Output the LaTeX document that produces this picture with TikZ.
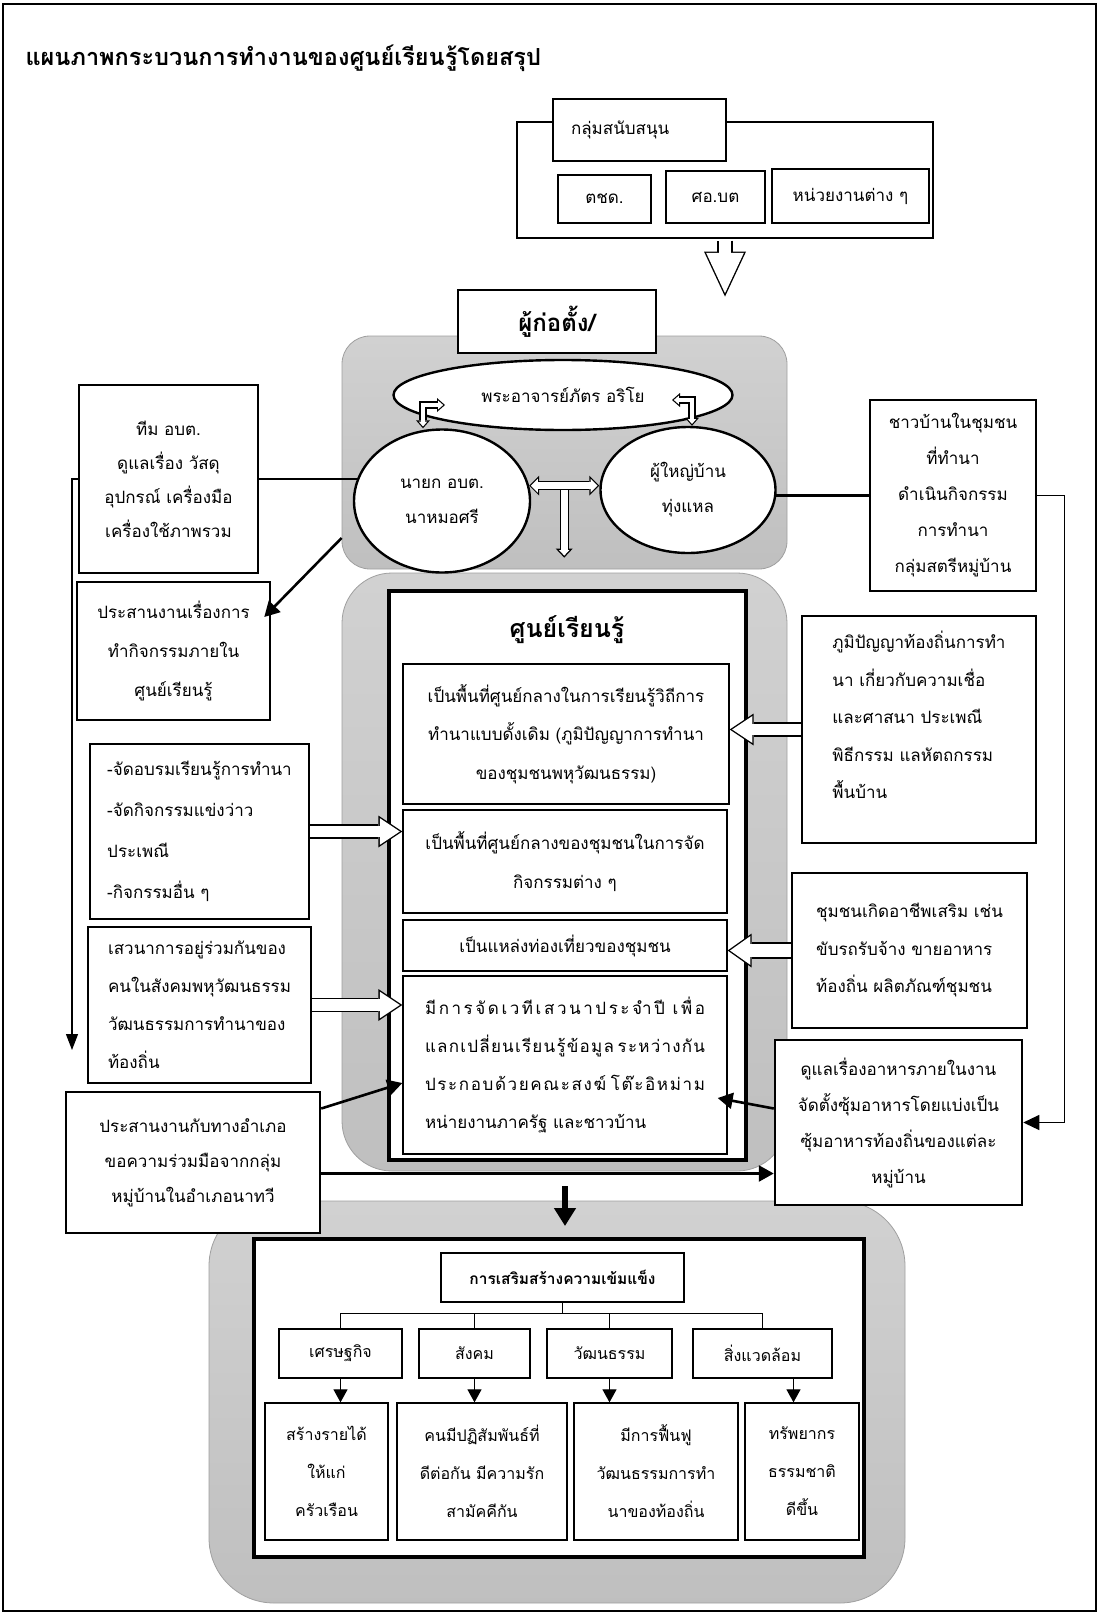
\documentclass[tikz,border=0pt]{standalone}
\usepackage{fontspec}
\setmainfont[Script=Thai]{Loma}
\usetikzlibrary{arrows.meta,calc,shapes.geometric}
\pgfdeclarelayer{back}
\pgfdeclarelayer{mid}
\pgfsetlayers{back,mid,main}

\newcommand\bodyfont{\fontsize{17}{37}\selectfont}
\newcommand\lowfont{\fontsize{16}{38}\selectfont}
% hollow block arrow: path, stem, head width, head length
\newcommand\hollow[4]{%
  \pgfmathsetmacro\hoh{#3/2}%
  \pgfmathsetmacro\hod{1.4*sqrt(\hoh*\hoh+#4*#4)/\hoh}%
  \pgfmathsetmacro\hol{#4-\hod-1.4}%
  \pgfmathsetmacro\how{#3*\hol/#4}%
  \pgfmathsetmacro\hoso{#2+1.4}%
  \pgfmathsetmacro\hosi{#2-1.4}%
  \draw[line width=\hoso pt, -{Triangle[length=#4pt, width=#3pt, line width=0pt]}] #1;
  \draw[white, line width=\hosi pt, shorten >=\hod pt,
    -{Triangle[length=\hol pt, width=\how pt, line width=0pt]}] #1;
}
\newcommand\hollowboth[4]{%
  \pgfmathsetmacro\hoh{#3/2}%
  \pgfmathsetmacro\hod{1.2*sqrt(\hoh*\hoh+#4*#4)/\hoh}%
  \pgfmathsetmacro\hol{#4-\hod-1.2}%
  \pgfmathsetmacro\how{#3*\hol/#4}%
  \pgfmathsetmacro\hoso{#2+1.2}%
  \pgfmathsetmacro\hosi{#2-1.2}%
  \draw[line width=\hoso pt, {Triangle[length=#4pt, width=#3pt, line width=0pt]}-{Triangle[length=#4pt, width=#3pt, line width=0pt]}] #1;
  \draw[white, line width=\hosi pt, shorten >=\hod pt, shorten <=\hod pt,
    {Triangle[length=\hol pt, width=\how pt, line width=0pt]}-{Triangle[length=\hol pt, width=\how pt, line width=0pt]}] #1;
}

\tikzset{
  box/.style={draw, fill=white, line width=1.3pt, inner sep=0pt, align=center, font=\bodyfont},
  bbox/.style={box, line width=2.5pt},
  wh/.style 2 args={minimum width=#1pt, minimum height=#2pt},
  oval/.style={ellipse, draw, fill=white, line width=2.4pt, inner sep=0pt, align=center,
    font=\fontsize{17}{35}\selectfont},
  region/.style={draw=gray!75, line width=0.8pt, top color=gray!36, bottom color=gray!50,
    rounded corners=#1, inner sep=0pt},
  link/.style={line width=2.6pt},
  thinlink/.style={line width=1.2pt},
  arr/.style={-{Triangle[length=15pt, width=16pt]}},
  arrsm/.style={-{Triangle[length=13pt, width=14pt]}},
}

\begin{document}
\begin{tikzpicture}[x=1pt, y=-1pt]
\useasboundingbox (0,0) rectangle (1098,1614);
\draw[line width=1.4pt] (3,4) rectangle (1096,1611);
\node[font=\bfseries\fontsize{23.5}{27}\selectfont, anchor=west] (title) at (22,58)
  {แผนภาพกระบวนการทำงานของศูนย์เรียนรู้โดยสรุป};

% grey backgrounds
\begin{pgfonlayer}{back}
  \node[region=28pt, wh={445}{233}] (reg1) at (564.5,452.5) {};
  \node[region=50pt, wh={445}{598}] (reg2) at (564.5,872) {};
  \node[region=65pt, wh={696}{402}] (reg3) at (557,1402) {};
\end{pgfonlayer}

% support group
\node[bbox, wh={416}{116}] (supgrp) at (725,180) {};
\node[box, line width=1.2pt, align=left, text width=137pt, inner xsep=18pt, wh={173}{62}] (support) at (639.5,130) {กลุ่มสนับสนุน};
\node[box, line width=1.2pt, wh={93}{48}] (bpp) at (604.5,199) {ตชด.};
\node[box, line width=1.2pt, wh={99}{52}] (sbpac) at (715.5,197) {ศอ.บต};
\node[box, line width=1.2pt, wh={157}{54}] (agencies) at (850.5,196) {หน่วยงานต่าง ๆ};

\node[bbox, wh={198}{63}, font=\bfseries\fontsize{24}{26}\selectfont] (founder) at (557,321.5) {ผู้ก่อตั้ง/};

% founders
\node[oval, wh={339}{70}] (monk) at (563,395) {พระอาจารย์ภัตร อริโย};
\node[oval, wh={176}{143}] (mayor) at (442,501) {นายก อบต.\\นาหมอศรี};
\node[oval, wh={175}{126}] (headman) at (688,490) {ผู้ใหญ่บ้าน\\ทุ่งแหล};

% left side
\node[bbox, wh={179}{188}, font=\fontsize{17}{34}\selectfont] (team) at (168.5,479)
  {ทีม อบต.\\ดูแลเรื่อง วัสดุ\\อุปกรณ์ เครื่องมือ\\เครื่องใช้ภาพรวม};
\node[bbox, wh={193}{138}, font=\fontsize{17}{39}\selectfont] (coord) at (173.5,651)
  {ประสานงานเรื่องการ\\ทำกิจกรรมภายใน\\ศูนย์เรียนรู้};
\node[bbox, wh={219}{175}, align=left, font=\fontsize{17}{41}\selectfont] (train) at (199.5,831.5)
  {-จัดอบรมเรียนรู้การทำนา\\-จัดกิจกรรมแข่งว่าว\\ประเพณี\\-กิจกรรมอื่น ๆ};
\node[bbox, wh={223}{156}, align=left, font=\fontsize{17}{38}\selectfont] (forum) at (199.5,1005)
  {เสวนาการอยู่ร่วมกันของ\\คนในสังคมพหุวัฒนธรรม\\วัฒนธรรมการทำนาของ\\ท้องถิ่น};
\node[bbox, wh={254}{141}, font=\fontsize{17}{35}\selectfont] (district) at (193,1162.5)
  {ประสานงานกับทางอำเภอ\\ขอความร่วมมือจากกลุ่ม\\หมู่บ้านในอำเภอนาทวี};

% right side
\node[bbox, wh={166}{191}, font=\fontsize{17}{36}\selectfont] (villager) at (953,495.5)
  {ชาวบ้านในชุมชน\\ที่ทำนา\\ดำเนินกิจกรรม\\การทำนา\\กลุ่มสตรีหมู่บ้าน};
\node[bbox, wh={234}{227}, align=left, font=\fontsize{17}{37.5}\selectfont] (wisdom) at (919,729.5)
  {ภูมิปัญญาท้องถิ่นการทำ\\นา เกี่ยวกับความเชื่อ\\และศาสนา ประเพณี\\พิธีกรรม แลหัตถกรรม\\พื้นบ้าน\\[-8pt]};
\node[bbox, wh={235}{155}, align=left, font=\fontsize{17}{37.5}\selectfont] (career) at (909.5,950.5)
  {ชุมชนเกิดอาชีพเสริม เช่น\\ขับรถรับจ้าง ขายอาหาร\\ท้องถิ่น ผลิตภัณฑ์ชุมชน};
\node[bbox, wh={247}{165}, font=\fontsize{17}{36}\selectfont] (food) at (898.5,1122.5)
  {ดูแลเรื่องอาหารภายในงาน\\จัดตั้งซุ้มอาหารโดยแบ่งเป็น\\ซุ้มอาหารท้องถิ่นของแต่ละ\\หมู่บ้าน};

% learning centre
\node[bbox, line width=3.2pt, wh={357}{569}] (lc) at (567.5,875.5) {};
\node[font=\bfseries\fontsize{25}{28}\selectfont] (lctitle) at (567,630) {ศูนย์เรียนรู้};
\node[box, wh={326}{140}, font=\fontsize{17}{38.5}\selectfont] (sub1) at (566,734)
  {เป็นพื้นที่ศูนย์กลางในการเรียนรู้วิถีการ\\ทำนาแบบดั้งเดิม (ภูมิปัญญาการทำนา\\ของชุมชนพหุวัฒนธรรม)};
\node[box, wh={324}{103}, font=\fontsize{17}{39}\selectfont] (sub2) at (565,861.5)
  {เป็นพื้นที่ศูนย์กลางของชุมชนในการจัด\\กิจกรรมต่าง ๆ};
\node[box, wh={324}{51}] (sub3) at (565,945.5) {เป็นแหล่งท่องเที่ยวของชุมชน};
\node[box, wh={324}{178}, align=left, font=\fontsize{17}{38}\selectfont] (sub4) at (565,1065)
  {\makebox[280pt][s]{มี\hfill ก\hfill า\hfill ร\hfill จั\hfill ด\hfill เ\hfill ว\hfill ที\hfill เ\hfill ส\hfill ว\hfill น\hfill า\hfill ป\hfill ร\hfill ะ\hfill จำ\hfill ปี\hfill\hfill\hfill เ\hfill พื่\hfill อ}\\
   \makebox[280pt][s]{แ\hfill ล\hfill ก\hfill เ\hfill ป\hfill ลี่\hfill ย\hfill น\hfill เ\hfill รี\hfill ย\hfill น\hfill รู้\hfill ข้\hfill อ\hfill มู\hfill ล\hfill\hfill\hfill ร\hfill ะ\hfill ห\hfill ว่\hfill า\hfill ง\hfill กั\hfill น}\\
   \makebox[280pt][s]{ป\hfill ร\hfill ะ\hfill ก\hfill อ\hfill บ\hfill ด้\hfill ว\hfill ย\hfill ค\hfill ณ\hfill ะ\hfill ส\hfill ง\hfill ฆ์\hfill\hfill\hfill โ\hfill ต๊\hfill ะ\hfill อิ\hfill ห\hfill ม่\hfill า\hfill ม}\\
   หน่ายงานภาครัฐ และชาวบ้าน};

% strengthening
\node[bbox, line width=3.2pt, wh={610}{318}] (strbox) at (559,1398) {};
\node[box, wh={243}{49}, font=\bfseries\fontsize{15.5}{18}\selectfont] (strength) at (562.5,1277.5) {การเสริมสร้างความเข้มแข็ง};
\node[box, wh={123}{49}, font=\lowfont] (econ) at (340.5,1353.5) {เศรษฐกิจ};
\node[box, wh={111}{49}, font=\lowfont] (soc) at (474.5,1353.5) {สังคม};
\node[box, wh={125}{49}, font=\lowfont] (cul) at (609.5,1353.5) {วัฒนธรรม};
\node[box, wh={139}{49}, font=\lowfont] (env) at (762.5,1353.5) {สิ่งแวดล้อม};
\node[box, wh={123}{137}, font=\lowfont] (r1) at (326.5,1471.5) {สร้างรายได้\\ให้แก่\\ครัวเรือน};
\node[box, wh={170}{137}, font=\lowfont] (r2) at (482,1471.5) {คนมีปฏิสัมพันธ์ที่\\ดีต่อกัน มีความรัก\\สามัคคีกัน};
\node[box, wh={164}{137}, font=\lowfont] (r3) at (656,1471.5) {มีการฟื้นฟู\\วัฒนธรรมการทำ\\นาของท้องถิ่น};
\node[box, wh={114}{137}, font=\lowfont] (r4) at (802,1471.5) {ทรัพยากร\\ธรรมชาติ\\ดีขึ้น};

% connectors
\begin{pgfonlayer}{mid}
  \draw[link] (team.east) -- (team.east -| mayor.center);
  \draw[link] (villager.west) -- (villager.west -| headman.center);
\end{pgfonlayer}
\coordinate (leftend) at (72,1050);
\draw[thinlink, -{Triangle[length=16pt, width=12pt]}] (team.west) -| (leftend);
\draw[thinlink, -{Triangle[length=16pt, width=15pt]}] (villager.east) -- ++(27,0) |- (food.east);
\draw[link, arr] (reg1.west |- 0,538) -- ([xshift=-7pt,yshift=34pt]coord.east);
\draw[link, arr] ([yshift=54pt]district.east) -- ([yshift=-18pt]sub4.west);
\draw[link, arr] ([yshift=-11pt]district.east) -- ([yshift=-11pt]district.east -| food.west);
\draw[link, arr] ([yshift=14pt]food.west) -- ([xshift=-10pt,yshift=-33pt]sub4.east);

\hollow{([yshift=-1.3pt]supgrp.south) -- ++(0,56)}{14}{42}{45}
\hollowboth{([xshift=-19pt]mayor.north) |- ([xshift=-118pt,yshift=-10pt]monk.center)}{6}{14}{8}
\hollowboth{([xshift=4pt]headman.north) |- ([xshift=109pt,yshift=-5pt]monk.center)}{6}{14}{8}
\hollow{($(mayor.10)!0.5!(mayor.10 -| headman.west)$) -- ++(0,72)}{8}{17}{9}
\hollowboth{(mayor.10) -- (mayor.10 -| headman.west)}{8}{20}{10}
\hollow{(train.east) -- (train.east -| sub2.west)}{13}{32}{24}
\hollow{(forum.east) -- (forum.east -| sub4.west)}{13}{32}{24}
\hollow{(wisdom.west) -- (wisdom.west -| sub1.east)}{13}{32}{24}
\hollow{(career.west) -- (career.west -| sub3.east)}{15}{34}{24}

\coordinate (dtop) at (565,1186);
\coordinate (dtip) at (565,1226);
\draw[line width=5.5pt, -{Triangle[length=18pt, width=21pt]}] (dtop) -- (dtip);

\draw[thinlink] (strength.south) -- ++(0,11) coordinate (hub);
\foreach \c in {econ,soc,cul,env}
  \draw[thinlink] (\c.north) |- (hub);
\foreach \c/\r in {econ/r1,soc/r2,cul/r3}
  \draw[thinlink, arrsm] (\c.south) -- (\c.south |- \r.north);
\draw[thinlink, arrsm] ([xshift=31pt]env.south) -- ([xshift=31pt]env.south |- r4.north);
\end{tikzpicture}
\end{document}
